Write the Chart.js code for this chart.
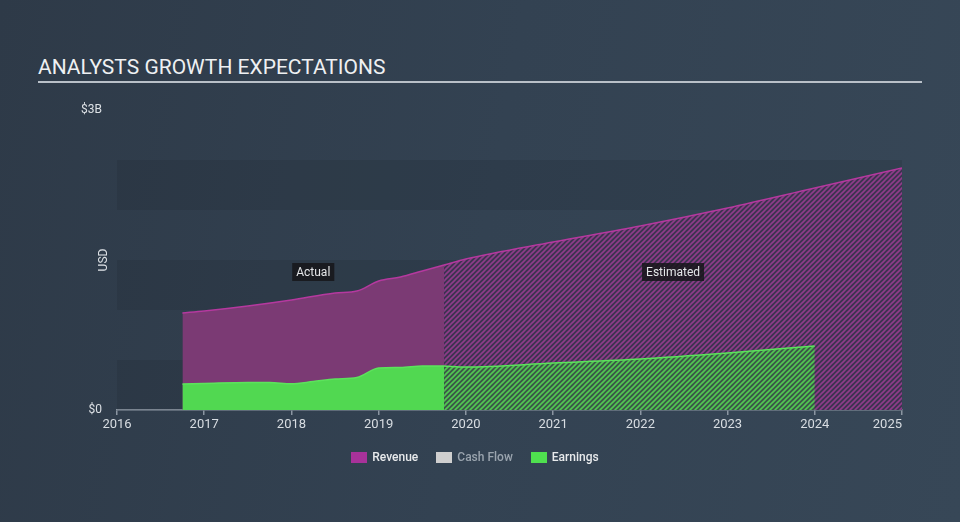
<!DOCTYPE html>
<html>
<head>
<meta charset="utf-8">
<script src="https://cdn.jsdelivr.net/npm/chart.js@4"></script>
<style>
  html, body { margin: 0; padding: 0; }
  body {
    width: 960px; height: 522px; overflow: hidden; position: relative;
    background: linear-gradient(100deg, #2e3a48 0%, #334252 50%, #374757 100%);
    font-family: Roboto, "Open Sans", sans-serif;
  }
  #title {
    position: absolute; left: 38px; top: 55px;
    font-size: 21px; color: #eef0f2;
  }
  #rule {
    position: absolute; left: 38px; top: 81px; width: 884px; height: 1.5px;
    background: #b9c0c8;
  }
  #chart { position: absolute; left: 0; top: 0; }
  #legend {
    position: absolute; left: 0; width: 950px; top: 450px;
    display: flex; justify-content: center; gap: 18px;
    font-size: 12px; font-weight: 500;
  }
  #legend span { display: flex; align-items: center; }
  #legend i { display: inline-block; width: 16px; height: 11px; margin-right: 5px; }
</style>
</head>
<body>
<div id="title">ANALYSTS GROWTH EXPECTATIONS</div>
<div id="rule"></div>
<canvas id="chart" width="960" height="522"></canvas>
<div id="legend">
  <span style="color:#e8eaec"><i style="background:#a8329a"></i>Revenue</span>
  <span style="color:#9aa4ae"><i style="background:#cfcfcf"></i>Cash Flow</span>
  <span style="color:#e8eaec"><i style="background:#4fe04f"></i>Earnings</span>
</div>
<script>
// values in $B
let revActualX = [2016.75, 2017, 2017.5, 2018, 2018.5, 2018.75, 2019, 2019.25, 2019.5, 2019.75];
let revActual  = [0.97, 0.99, 1.04, 1.10, 1.17, 1.19, 1.29, 1.33, 1.39, 1.45];
let revEstX = [2019.75, 2020, 2021, 2022, 2023, 2024, 2025];
let revEst  = [1.45, 1.51, 1.68, 1.84, 2.02, 2.22, 2.42];

let earnActualX = [2016.75, 2017, 2017.5, 2017.75, 2018, 2018.25, 2018.5, 2018.75, 2019, 2019.25, 2019.5, 2019.75];
let earnActual  = [0.26, 0.265, 0.275, 0.275, 0.262, 0.285, 0.31, 0.325, 0.42, 0.425, 0.44, 0.44];
let earnEstX = [2019.75, 2020, 2021, 2022, 2023, 2024];
let earnEst  = [0.44, 0.43, 0.47, 0.51, 0.57, 0.64];

let yearTicks = [2016, 2017, 2018, 2019, 2020, 2021, 2022, 2023, 2024, 2025];
let yLabels = [[0, "$0"], [3, "$3B"]];
let bands = [[0, 0.5], [1, 1.5], [2, 2.5]];

function pts(xs, ys) {
    return xs.map((x, i) => ({ x: x, y: ys[i] }));
}

function hatch(bg, fg) {
    let c = document.createElement("canvas");
    c.width = 5; c.height = 5;
    let g = c.getContext("2d");
    g.fillStyle = bg;
    g.fillRect(0, 0, 5, 5);
    g.strokeStyle = fg;
    g.lineWidth = 1.6;
    g.beginPath();
    g.moveTo(0, 5); g.lineTo(5, 0);
    g.moveTo(-1, 1); g.lineTo(1, -1);
    g.moveTo(4, 6); g.lineTo(6, 4);
    g.stroke();
    return g.createPattern(c, "repeat");
}

let revHatch = hatch("#3d3450", "#8f3c8a");
let earnHatch = hatch("#3b5848", "#52c852");

function area(label, data, fill, line, order) {
    return {
        label: label,
        data: data,
        fill: "origin",
        backgroundColor: fill,
        borderColor: line,
        borderWidth: 1.5,
        pointRadius: 0,
        cubicInterpolationMode: "monotone",
        order: order
    };
}

let extras = {
    id: "extras",
    beforeDatasetsDraw(chart) {
        let ctx = chart.ctx, a = chart.chartArea, y = chart.scales.y;
        ctx.save();
        ctx.fillStyle = "rgba(20,28,38,0.14)";
        bands.forEach(b => {
            let t = y.getPixelForValue(b[1]), bt = y.getPixelForValue(b[0]);
            ctx.fillRect(a.left, t, a.right - a.left, bt - t);
        });
        ctx.restore();
    },
    afterDatasetsDraw(chart) {
        let ctx = chart.ctx, x = chart.scales.x, y = chart.scales.y;
        ctx.save();
        ctx.font = "12px Roboto";
        ctx.textBaseline = "middle";
        ctx.fillStyle = "#dde1e5";
        ctx.textAlign = "right";
        yLabels.forEach(l => ctx.fillText(l[1], 102, y.getPixelForValue(l[0])));
        ctx.save();
        ctx.translate(104, y.getPixelForValue(1.5));
        ctx.rotate(-Math.PI / 2);
        ctx.textAlign = "center";
        ctx.fillText("USD", 0, 0);
        ctx.restore();

        let tags = [
            ["Actual", (revActualX[0] + revActualX[revActualX.length - 1]) / 2],
            ["Estimated", (revEstX[0] + revEstX[revEstX.length - 1]) / 2]
        ];
        ctx.textAlign = "center";
        tags.forEach(t => {
            let cx = x.getPixelForValue(t[1]), cy = y.getPixelForValue(1.38);
            let w = ctx.measureText(t[0]).width + 8;
            ctx.fillStyle = "rgba(22,22,26,0.85)";
            ctx.fillRect(cx - w / 2, cy - 9, w, 18);
            ctx.fillStyle = "#e4e6e8";
            ctx.fillText(t[0], cx, cy + 0.5);
        });
        ctx.restore();
    }
};

new Chart(document.getElementById("chart"), {
    type: "line",
    data: {
        datasets: [
            area("Earnings", pts(earnActualX, earnActual), "#51d851", "#5ce35c", 1),
            area("Earnings est", pts(earnEstX, earnEst), earnHatch, "#5ce35c", 2),
            area("Revenue", pts(revActualX, revActual), "#7b3a74", "#b5399f", 3),
            area("Revenue est", pts(revEstX, revEst), revHatch, "#b5399f", 4)
        ]
    },
    options: {
        responsive: false,
        animation: false,
        layout: { padding: { left: 117, right: 58, top: 110, bottom: 81 } },
        plugins: { legend: { display: false }, tooltip: { enabled: false } },
        scales: {
            x: {
                type: "linear",
                min: 2016,
                max: 2025,
                afterFit: s => { s.height = 31; },
                afterBuildTicks: s => { s.ticks = yearTicks.map(v => ({ value: v })); },
                ticks: {
                    color: "#d8dde2",
                    font: { family: "Roboto", size: 13 },
                    padding: 2,
                    maxRotation: 0,
                    autoSkip: false,
                    // last year label sits left of its tick, as in the source
                    callback: v => v === 2025 ? "2025\u2007\u2007\u2007\u2007" : String(v)
                },
                grid: { drawOnChartArea: false, tickLength: 5, color: "#8b96a2", lineWidth: 1.5 },
                border: { color: "#8b96a2", width: 1.5 }
            },
            y: {
                display: false,
                min: 0,
                max: 3
            }
        }
    },
    plugins: [extras]
});
</script>
</body>
</html>
